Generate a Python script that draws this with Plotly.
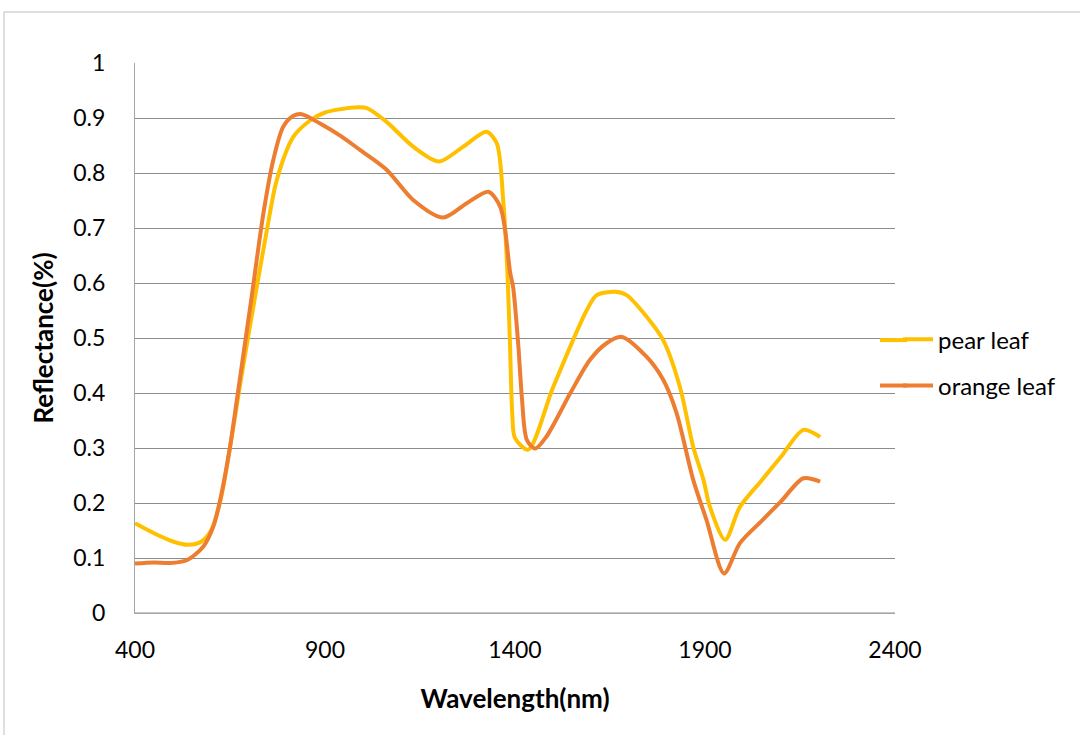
import plotly.graph_objects as go

pear_x = [400, 450, 500, 540, 575, 600, 625, 650, 680, 716, 747, 773, 817, 860, 900, 975, 1010, 1062, 1132, 1200,
          1264, 1325, 1352, 1369, 1380, 1387, 1393, 1400, 1435, 1500, 1589, 1615, 1663, 1694, 1746, 1790, 1834, 1869,
          1896, 1913, 1953, 1992, 2050, 2100, 2159, 2203]
pear_y = [0.163, 0.145, 0.13, 0.124, 0.13, 0.15, 0.205, 0.30, 0.43, 0.575, 0.696, 0.787, 0.866, 0.895, 0.91, 0.919,
          0.918, 0.893, 0.848, 0.821, 0.848, 0.875, 0.854, 0.75, 0.62, 0.484, 0.36, 0.318, 0.297, 0.41, 0.551, 0.578,
          0.584, 0.578, 0.539, 0.496, 0.411, 0.302, 0.242, 0.193, 0.133, 0.193, 0.242, 0.284, 0.333, 0.32]

orange_x = [400, 450, 492, 536, 580, 606, 624, 650, 668, 707, 738, 764, 790, 817, 839, 887, 940, 992, 1062, 1132,
            1211, 1273, 1330, 1361, 1374, 1387, 1395, 1409, 1418, 1431, 1453, 1483, 1545, 1597, 1640, 1681, 1746,
            1790, 1825, 1869, 1904, 1950, 1992, 2050, 2100, 2159, 2203]
orange_y = [0.090, 0.092, 0.091, 0.096, 0.121, 0.157, 0.205, 0.302, 0.387, 0.575, 0.727, 0.824, 0.884, 0.904,
            0.907, 0.890, 0.868, 0.842, 0.806, 0.751, 0.719, 0.745, 0.766, 0.739, 0.696, 0.62, 0.593, 0.484, 0.393,
            0.315, 0.299, 0.321, 0.399, 0.46, 0.49, 0.502, 0.466, 0.424, 0.364, 0.242, 0.169, 0.072, 0.127, 0.168,
            0.203, 0.245, 0.239]

x_ticks = [400, 900, 1400, 1900, 2400]
y_ticks = [0, 0.1, 0.2, 0.3, 0.4, 0.5, 0.6, 0.7, 0.8, 0.9, 1]
y_tick_text = ["0", "0.1", "0.2", "0.3", "0.4", "0.5", "0.6", "0.7", "0.8", "0.9", "1"]

FONT = "Lato, 'Noto Sans', sans-serif"
PEAR_C = "#FFC000"
ORANGE_C = "#ED7D31"

fig = go.Figure()
fig.add_trace(go.Scatter(x=pear_x, y=pear_y, mode="lines", name="pear leaf", legendgroup="a",
                         line=dict(color=PEAR_C, width=4, shape="spline", smoothing=0.8)))
fig.add_trace(go.Scatter(x=orange_x, y=orange_y, mode="lines", name="orange leaf", legendgroup="b",
                         line=dict(color=ORANGE_C, width=4, shape="spline", smoothing=0.8)))

# legend key extensions (the reference uses longer legend keys than plotly draws)
leg_ext = [dict(type="line", xref="paper", yref="paper", x0=0.9803, x1=1.016, y0=yy, y1=yy,
                line=dict(color=c, width=4)) for yy, c in [(0.4962, PEAR_C), (0.4136, ORANGE_C)]]

fig.update_layout(
    width=1080, height=735,
    margin=dict(l=135, r=185, t=63, b=122),
    paper_bgcolor="white", plot_bgcolor="white",
    font=dict(family=FONT, size=23, color="#000000"),
    legend=dict(x=1.004, y=0.455, xanchor="left", yanchor="middle", traceorder="grouped",
                tracegroupgap=12, font=dict(size=24, family=FONT), bgcolor="rgba(0,0,0,0)"),
    xaxis=dict(range=[400, 2400], tickvals=x_ticks, ticktext=[str(v) for v in x_ticks],
               showgrid=False, zeroline=False, showline=True, linecolor="#a6a6a6", linewidth=1,
               ticks="", ticklabelstandoff=16, tickfont=dict(size=23),
               title=dict(text="<b>Wavelength(nm)</b>", font=dict(size=26, family=FONT), standoff=28)),
    yaxis=dict(range=[0, 1], tickvals=y_ticks, ticktext=y_tick_text,
               showgrid=True, gridcolor="#8c8c8c", gridwidth=1, zeroline=False,
               showline=True, linecolor="#a6a6a6", linewidth=1, ticks="", ticklabelstandoff=24,
               tickfont=dict(size=23),
               title=dict(text="<b>Reflectance(%)</b>", font=dict(size=26, family=FONT), standoff=12)),
    shapes=[dict(type="rect", xref="paper", yref="paper", x0=-0.1724, x1=1.4, y0=-0.4, y1=1.0927,
                 line=dict(color="#bfbfbf", width=1), fillcolor="rgba(0,0,0,0)", layer="below"),
            dict(type="line", xref="paper", yref="y", x0=0, x1=1, y0=0, y1=0,
                 line=dict(color="#8c8c8c", width=1))] + leg_ext,
)

fig.write_html("out.html")
